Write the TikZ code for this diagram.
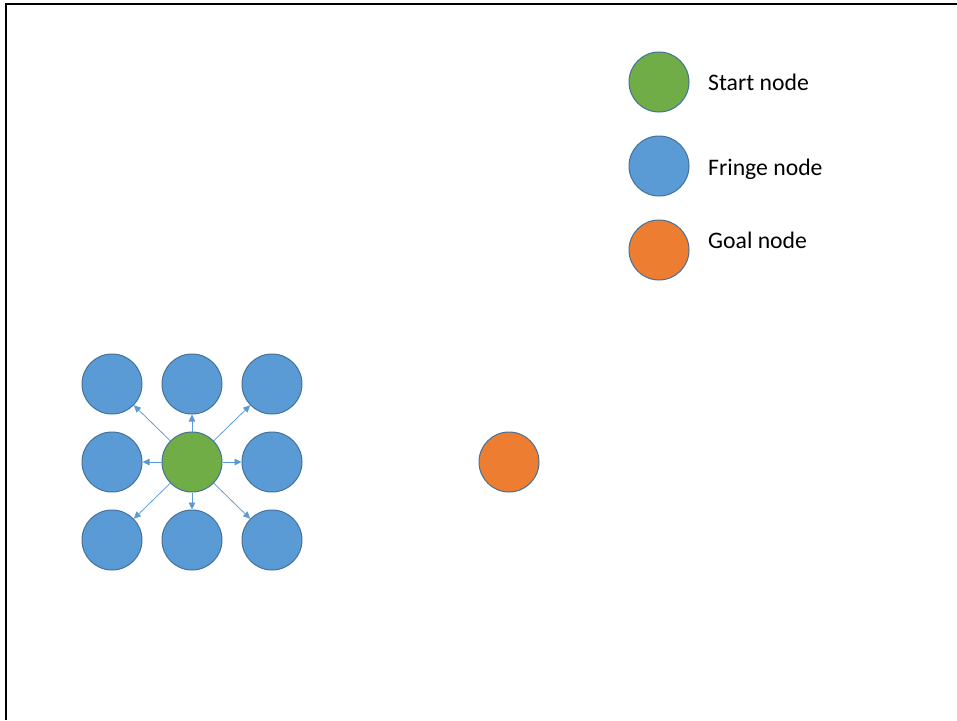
\documentclass[tikz,border=0pt]{standalone}
\usepackage{fontspec}
\setmainfont{Carlito}
\usetikzlibrary{arrows.meta}
\definecolor{startgreen}{HTML}{70AD47}
\definecolor{fringeblue}{HTML}{5B9BD5}
\definecolor{goalorange}{HTML}{ED7D31}
\definecolor{rimblue}{HTML}{41719C}
\tikzset{
  ball/.style={circle, draw=rimblue, line width=1pt, minimum size=60pt, inner sep=0pt},
  startball/.style={ball, fill=startgreen},
  fringeball/.style={ball, fill=fringeblue},
  goalball/.style={ball, fill=goalorange},
  expand/.style={draw=fringeblue, line width=0.75pt, -{Triangle[width=6.5pt,length=7pt]}},
  legendtext/.style={anchor=base west, inner sep=0pt, font=\fontsize{23.7}{28}\selectfont},
  frame/.style={line width=2.2pt, black}
}
\begin{document}
\begin{tikzpicture}[x=1pt, y=-1pt]
\useasboundingbox (0,0) rectangle (957,720);
\fill[white] (0,0) rectangle (957,720);
% frame (top and left)
\coordinate (fb) at (6,720);
\coordinate (fc) at (6,4);
\coordinate (fr) at (957,4);
\draw[frame] (fb) -- (fc) -- (fr);
% grid
\node[fringeball] (tl) at (112,384) {};
\node[fringeball] (tm) at (192,384) {};
\node[fringeball] (tr) at (272,384) {};
\node[fringeball] (ml) at (112,462) {};
\node[startball]  (c)  at (192,462) {};
\node[fringeball] (mr) at (272,462) {};
\node[fringeball] (bl) at (112,540) {};
\node[fringeball] (bm) at (192,540) {};
\node[fringeball] (br) at (272,540) {};
\foreach \n in {tl,tm,tr,ml,mr,bl,bm,br}{\draw[expand] (c) -- (\n);}
% goal
\node[goalball] (g) at (509,462) {};
% legend
\node[startball]  (ls) at (659,82) {};
\node[fringeball] (lf) at (659,166) {};
\node[goalball]   (lg) at (659,250) {};
\node[legendtext] (ts) at (708,90) {Start node};
\node[legendtext] (tf) at (708,175) {Fringe node};
\node[legendtext] (tg) at (708,248) {Goal node};
\end{tikzpicture}
\end{document}
